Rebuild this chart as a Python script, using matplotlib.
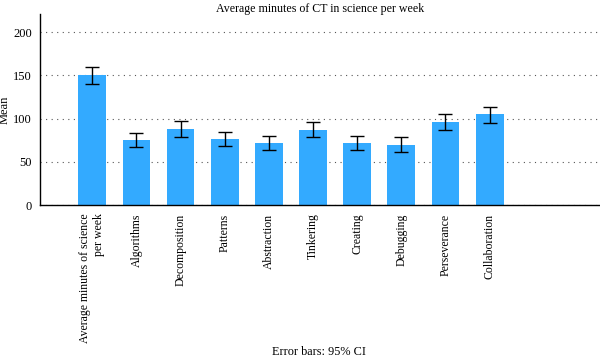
import matplotlib
matplotlib.use('Agg')
import matplotlib.pyplot as plt
import numpy as np

# data
categories = ['Average minutes of science\nper week', 'Algorithms', 'Decomposition',
              'Patterns', 'Abstraction', 'Tinkering', 'Creating', 'Debugging',
              'Perseverance', 'Collaboration']
means = [150, 75, 88, 77, 72, 87, 72, 70, 96, 105]
ci_low = [140, 67, 79, 68, 64, 79, 64, 62, 87, 95]
ci_high = [160, 83, 97, 85, 80, 96, 80, 79, 105, 114]

plt.rcParams['font.family'] = ['Liberation Serif', 'DejaVu Serif']

fig = plt.figure(figsize=(6, 3.6), dpi=100)
ax = fig.add_axes([0.067, 0.43, 0.933, 0.531])

x = np.arange(len(categories))
yerr = [np.array(means) - np.array(ci_low), np.array(ci_high) - np.array(means)]
ax.bar(x, means, width=0.63, color='#33aaff', zorder=2)
ax.errorbar(x, means, yerr=yerr, fmt='none', ecolor='black', elinewidth=1,
            capsize=5, capthick=1, zorder=3)

ax.set_xlim(-1.18, 11.5)
ax.set_ylim(0, 221)
ax.set_yticks([0, 50, 100, 150, 200])
ax.yaxis.grid(True, linestyle=(0, (1, 4)), color='#555555', linewidth=0.8, zorder=0)
ax.set_xticks(x)
ax.set_xticklabels(categories, rotation=90, fontsize=8.5, linespacing=1.25, ma='right')
ax.tick_params(axis='y', labelsize=9, length=0, pad=6)
ax.tick_params(axis='x', length=0, pad=6)

for s in ['top', 'right']:
    ax.spines[s].set_visible(False)
ax.spines['left'].set_linewidth(1.0)
ax.spines['bottom'].set_linewidth(1.0)

ax.set_ylabel('Mean', fontsize=9)
ax.yaxis.set_label_coords(-0.052, 0.5)
fig.text(0.533, 0.992, 'Average minutes of CT in science per week', ha='center', va='top', fontsize=8.6)
fig.text(0.532, 0.005, 'Error bars: 95% CI', ha='center', va='bottom', fontsize=8.8)

fig.savefig('out.png', dpi=100)
